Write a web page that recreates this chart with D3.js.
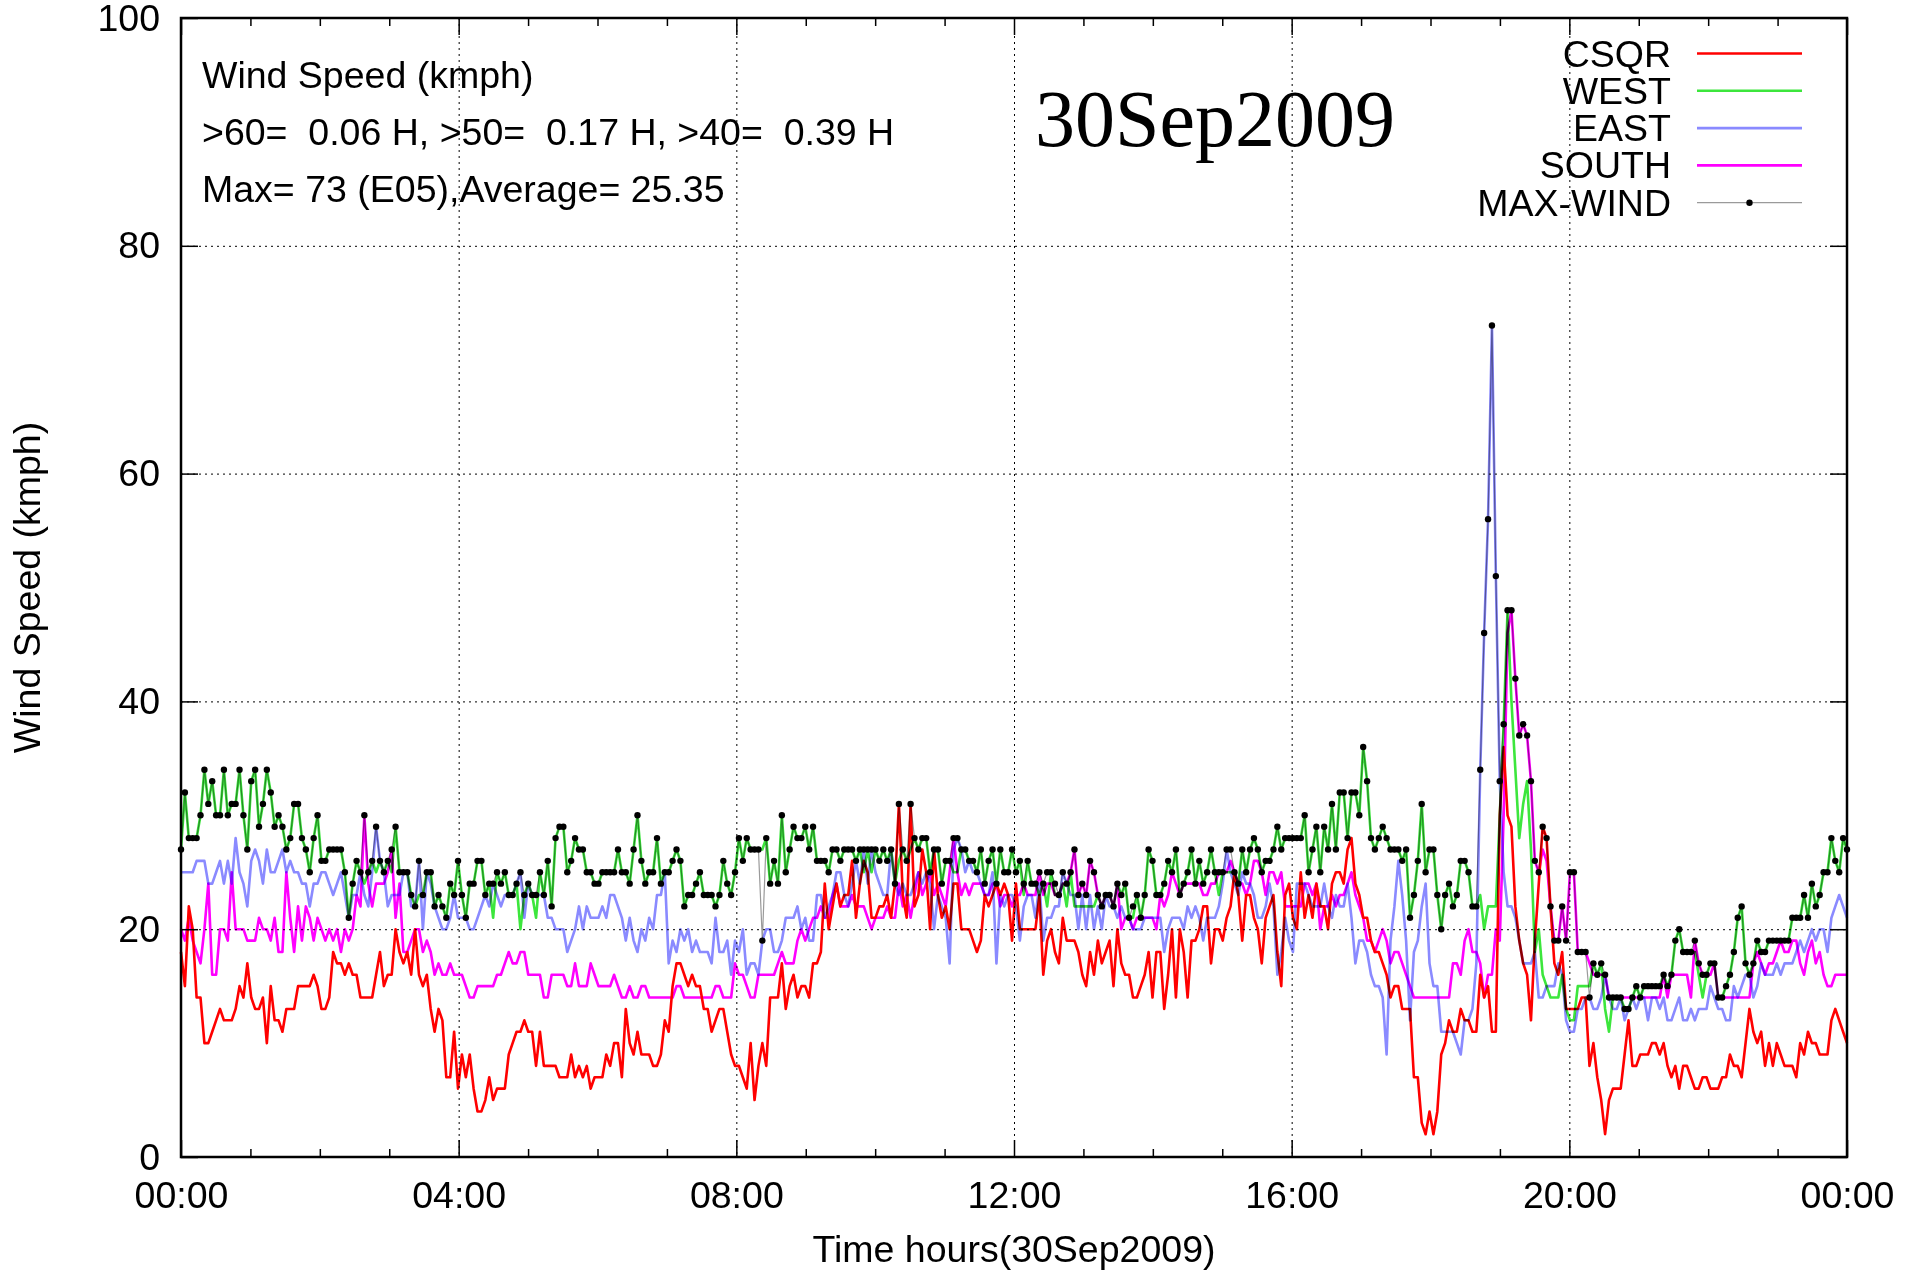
<!DOCTYPE html>
<html><head><meta charset="utf-8">
<script src="https://cdn.jsdelivr.net/npm/d3@7"></script>
<style>
html,body{margin:0;padding:0;background:#fff;}
svg{display:block;}
</style></head><body>
<svg id="chart" width="1917" height="1274"></svg>
<script>
// ---------------- data ----------------
const hourTicks = [0, 4, 8, 12, 16, 20, 24];
const hourLabels = ["00:00", "04:00", "08:00", "12:00", "16:00", "20:00", "00:00"];
const minorHours = [1, 2, 3, 5, 6, 7, 9, 10, 11, 13, 14, 15, 17, 18, 19, 21, 22, 23];
const speedTicks = [0, 20, 40, 60, 80, 100];
const seriesNames = ["CSQR", "WEST", "EAST", "SOUTH", "MAX-WIND"];
const infoLines = ["Wind Speed (kmph)", ">60=  0.06 H, >50=  0.17 H, >40=  0.39 H", "Max= 73 (E05),Average= 25.35"];
const dateLabel = "30Sep2009";
const xTitle = "Time hours(30Sep2009)";
const yTitle = "Wind Speed (kmph)";

// samples spread evenly over 00:00 - 24:00 (kmph)
const maxWind = [
27,32,28,28,28,30,34,31,33,30,30,34,30,31,31,34,30,27,33,34,29,31,34,32,29,30,29,27,28,31,31,28,27,25,28,30,26,26,27,27,27,27,25,21,24,26,25,30,25,26,29,26,25,26,27,29,25,25,25,23,22,26,23,25,25,22,23,22,21,24,
23,26,23,21,24,24,26,26,23,24,24,25,24,25,23,23,24,25,23,24,23,23,25,23,26,22,28,29,29,25,26,28,27,27,25,25,24,24,25,25,25,25,27,25,25,24,27,30,26,24,25,25,28,24,25,25,26,27,26,22,23,23,24,25,23,23,23,22,23,26,24,23,25,28,
26,28,27,27,27,19,28,24,26,24,30,25,27,29,28,28,29,27,29,26,26,26,25,27,27,26,27,27,27,26,27,27,27,27,27,26,27,26,27,24,31,27,26,31,28,27,28,28,25,27,27,24,26,26,28,28,27,27,26,26,25,27,24,26,27,24,27,25,25,27,25,
26,24,26,24,24,25,24,25,25,24,23,25,24,25,27,23,24,23,26,25,23,22,23,23,22,24,23,24,21,22,23,21,23,27,26,23,23,24,26,25,27,23,24,25,27,24,26,24,25,27,25,25,25,27,27,25,24,27,25,27,28,27,25,26,26,27,29,27,28,28,28,
28,28,30,25,27,29,25,29,27,31,27,32,32,28,32,32,30,36,33,28,27,28,29,28,27,27,27,26,27,21,23,26,31,25,27,27,23,20,23,24,22,23,26,26,25,22,22,34,46,56,73,51,33,38,48,48,42,37,38,37,33,26,25,29,28,22,19,19,22,19,25,
25,18,18,18,14,17,16,17,16,14,14,14,14,13,13,14,15,14,15,15,15,15,15,16,15,16,19,20,18,18,18,19,17,16,16,17,17,14,14,15,16,18,21,22,17,16,17,19,18,18,19,19,19,19,19,19,21,21,21,23,21,24,22,23,25,25,28,26,25,28,27
];
const csqr = [
18,15,22,20,14,14,10,10,11,12,13,12,12,12,13,15,14,17,14,13,13,14,10,15,12,12,11,13,13,13,15,15,15,15,16,15,13,13,14,18,17,17,16,17,16,16,14,14,14,14,16,18,15,16,16,20,18,17,18,16,20,16,15,16,13,11,13,12,7,7,
11,6,9,7,9,6,4,4,5,7,5,6,6,6,9,10,11,11,12,11,11,8,11,8,8,8,8,7,7,7,9,7,8,7,8,6,7,7,7,9,8,10,10,7,13,10,9,11,9,9,9,8,8,9,12,11,15,17,17,16,15,16,15,15,13,13,11,12,13,13,11,9,8,8,
7,6,10,5,8,10,8,14,14,14,17,13,15,16,14,15,15,14,17,17,18,24,20,22,24,22,23,23,26,21,24,26,25,21,21,22,22,23,21,24,31,23,21,31,22,23,27,25,20,27,23,21,22,20,24,24,20,20,20,19,18,19,23,22,23,24,23,24,23,19,24,
20,20,20,20,20,23,16,19,20,18,17,21,19,19,19,18,16,15,18,16,19,17,18,19,15,20,17,16,16,14,14,15,16,18,14,18,18,13,16,20,14,20,18,14,19,19,20,22,22,17,20,20,19,21,22,25,23,19,23,23,21,20,17,21,22,23,18,15,23,24,21,
20,25,21,23,21,24,22,22,20,24,25,25,24,27,28,24,23,21,21,19,18,18,17,16,14,15,15,13,13,13,7,7,3,2,4,2,4,9,10,12,11,11,13,12,12,11,11,16,14,15,11,11,30,36,30,29,22,19,17,16,12,19,24,29,28,22,17,16,18,13,13,
13,13,14,14,8,10,7,5,2,5,6,6,6,9,12,8,8,9,9,9,10,10,9,10,8,7,8,6,8,8,7,6,6,7,7,6,6,6,7,7,9,8,8,7,10,13,11,10,11,8,10,8,10,9,8,8,8,7,10,9,11,10,10,9,9,9,12,13,12,11,10
];
const west = [
27,32,28,28,28,30,34,31,33,30,30,34,30,31,31,34,30,27,33,34,29,31,34,32,29,30,29,27,28,31,31,28,27,25,28,30,26,26,27,27,27,27,25,21,24,26,25,24,25,26,25,26,25,26,25,29,25,25,25,23,22,23,23,25,25,22,23,22,21,24,
23,26,23,21,24,24,26,26,23,24,21,25,24,25,23,23,24,20,23,24,23,21,25,23,26,22,28,29,29,25,26,28,27,27,25,25,24,24,25,25,25,25,27,25,25,24,27,30,26,24,25,25,28,24,25,25,26,27,26,22,23,23,24,25,23,23,23,22,23,26,24,23,25,28,
26,28,27,27,27,27,28,24,26,24,30,25,27,29,28,28,29,27,29,26,26,26,25,27,27,26,27,27,27,26,27,25,27,25,27,26,27,26,27,24,26,27,26,27,28,27,28,28,25,27,27,24,26,26,25,25,27,27,26,26,25,27,24,26,27,24,27,25,25,27,25,
26,23,26,24,24,23,24,22,25,23,23,24,22,25,22,22,22,22,22,22,23,22,23,23,22,24,23,24,21,21,23,21,23,27,26,23,23,24,26,25,27,23,24,25,27,24,26,24,25,27,25,23,25,25,25,25,24,27,25,27,28,27,25,26,26,27,29,27,28,28,28,
28,28,30,25,27,29,25,29,27,31,27,32,32,28,32,32,30,36,33,28,27,28,29,28,27,27,27,26,27,21,23,26,31,25,27,27,23,20,23,24,22,23,26,26,25,22,22,23,20,22,22,22,30,38,48,40,34,28,31,33,27,18,20,16,15,14,14,14,16,13,12,
12,15,15,15,15,17,16,17,13,11,14,14,14,13,13,14,15,14,15,15,15,15,15,16,15,16,19,20,18,18,18,18,16,14,16,17,17,14,14,15,16,18,21,22,17,16,17,19,18,18,19,19,19,19,19,19,21,21,21,23,21,24,22,23,25,25,28,26,25,28,27
];
const east = [
25,25,25,25,26,26,26,24,24,25,26,24,26,24,28,25,24,22,26,27,26,24,27,25,25,26,27,25,26,25,25,24,24,22,24,24,25,25,24,23,24,25,23,21,23,23,25,23,22,25,29,26,25,22,23,23,23,25,25,22,22,26,20,25,24,22,21,20,20,21,
23,21,21,21,20,20,21,22,23,22,24,23,22,23,23,23,24,25,21,24,23,23,23,23,21,21,20,20,20,18,19,20,22,20,22,21,21,21,22,21,23,23,22,21,19,21,19,18,20,19,21,20,23,23,25,17,19,18,20,19,20,18,19,18,18,18,17,21,18,18,19,16,19,18,
20,16,17,17,16,19,20,20,18,18,19,21,21,21,22,20,21,19,19,23,23,21,22,23,25,25,23,22,24,26,24,27,24,27,25,24,23,23,27,24,23,24,23,23,24,25,24,25,24,20,23,22,21,17,27,28,27,25,26,25,25,24,23,23,25,17,23,22,23,23,22,
19,22,23,23,21,24,19,21,21,22,22,25,24,23,23,20,23,20,23,20,22,20,23,22,22,21,22,21,21,20,20,20,21,21,21,21,21,18,20,21,21,21,20,22,21,22,21,19,21,21,21,22,24,27,25,24,23,25,24,24,23,21,21,22,24,22,16,18,21,19,18,
24,24,24,23,22,22,22,24,22,21,23,22,22,24,21,17,19,19,18,16,15,15,14,9,19,22,26,23,19,12,18,19,22,24,17,15,15,11,11,11,11,10,9,12,12,13,17,34,46,56,73,51,33,25,22,22,21,19,17,17,17,18,14,14,15,15,15,17,16,12,11,
11,13,13,14,14,13,13,14,16,14,13,13,14,12,13,14,13,14,14,12,14,14,13,14,12,12,13,14,12,12,13,12,13,13,13,15,14,13,13,12,12,15,14,15,16,16,14,15,17,16,16,16,17,16,17,17,17,18,19,18,19,20,19,20,20,18,21,22,23,22,21
];
const south = [
20,19,21,19,18,17,20,24,16,16,20,20,19,25,20,20,20,19,19,19,21,20,20,19,21,18,18,25,21,18,22,19,22,21,19,21,20,19,20,19,20,18,20,19,20,23,22,30,24,22,24,24,24,25,27,21,24,18,18,19,20,20,18,19,18,16,17,16,16,17,
16,16,16,15,14,14,15,15,15,15,15,16,16,17,18,17,17,18,18,16,16,16,16,14,14,16,16,16,16,15,15,17,15,15,15,17,16,15,15,15,15,16,15,14,14,15,14,14,15,15,14,14,14,14,14,14,14,15,15,14,14,14,14,14,14,14,14,15,15,14,14,14,17,16,
16,15,14,14,16,16,16,16,16,17,18,17,17,17,19,20,19,20,21,21,22,21,21,23,24,22,22,22,23,22,22,22,21,20,21,21,21,22,21,21,24,22,23,21,23,25,23,24,25,23,24,23,22,25,28,25,23,24,23,24,24,24,23,23,24,24,22,23,23,22,23,
23,24,23,23,23,25,23,24,24,23,23,24,24,25,27,23,24,23,26,25,23,22,23,23,22,24,20,21,21,20,21,21,21,21,21,20,23,22,23,25,24,23,24,24,24,24,24,23,23,24,24,25,25,25,26,25,24,24,23,24,26,26,25,23,25,25,24,25,22,22,22,
22,22,24,24,23,24,20,22,22,23,22,23,23,24,25,23,22,21,19,19,18,19,20,19,17,18,18,17,16,15,14,14,14,14,14,14,14,14,14,14,17,17,16,19,20,18,18,17,14,16,16,20,19,30,46,48,42,37,38,37,33,26,25,27,26,22,19,19,22,19,25,
25,18,18,18,17,16,16,16,16,14,14,14,14,14,14,14,14,14,14,14,14,14,14,16,14,16,16,16,16,16,14,19,17,16,16,16,17,14,14,14,14,14,14,14,14,14,17,18,17,16,17,17,18,19,18,18,19,19,17,16,18,19,17,18,16,15,15,16,16,16,16
];

// ---------------- drawing ----------------
const W = 1917, H = 1274;
const M = { l: 181, r: 1847, t: 18, b: 1157 };
const SANS = '"Liberation Sans", Arial, Helvetica, sans-serif';
const SERIF = '"Liberation Serif", "Times New Roman", Times, serif';
const FS = 37.5;

const svg = d3.select("#chart");
svg.append("rect").attr("width", W).attr("height", H).attr("fill", "#fff");

const x = d3.scaleLinear().domain([0, 24]).range([M.l, M.r]);
const y = d3.scaleLinear().domain([0, 100]).range([M.b, M.t]);

// grid
const grid = svg.append("g").attr("stroke", "#000").attr("stroke-width", 1).attr("stroke-dasharray", "2,4");
grid.selectAll("line.gx").data(hourTicks.filter(h => h > 0 && h < 24)).join("line").attr("class", "gx")
  .attr("x1", d => x(d) + 0.5).attr("x2", d => x(d) + 0.5).attr("y1", M.t).attr("y2", M.b);
grid.selectAll("line.gy").data(speedTicks.filter(v => v > 0 && v < 100)).join("line").attr("class", "gy")
  .attr("y1", d => y(d) + 0.5).attr("y2", d => y(d) + 0.5).attr("x1", M.l).attr("x2", M.r);

function styleAxis(g) {
  g.attr("font-size", FS).attr("font-family", SANS);
  g.select(".domain").remove();
  g.selectAll(".tick line").attr("stroke", "#000").attr("stroke-width", 1.5);
  g.selectAll(".tick text").attr("fill", "#000");
}
// bottom major + labels
svg.append("g").attr("transform", `translate(0,${M.b})`)
  .call(d3.axisBottom(x).tickValues(hourTicks).tickFormat((d, i) => hourLabels[i])
    .tickSizeInner(-17).tickSizeOuter(0).tickPadding(24)).call(styleAxis);
svg.append("g").attr("transform", `translate(0,${M.b})`)
  .call(d3.axisBottom(x).tickValues(minorHours).tickFormat("").tickSizeInner(-8).tickSizeOuter(0)).call(styleAxis);
// top mirror
svg.append("g").attr("transform", `translate(0,${M.t})`)
  .call(d3.axisTop(x).tickValues(hourTicks).tickFormat("").tickSizeInner(-17).tickSizeOuter(0)).call(styleAxis);
svg.append("g").attr("transform", `translate(0,${M.t})`)
  .call(d3.axisTop(x).tickValues(minorHours).tickFormat("").tickSizeInner(-8).tickSizeOuter(0)).call(styleAxis);
// left + right
svg.append("g").attr("transform", `translate(${M.l},0)`)
  .call(d3.axisLeft(y).tickValues(speedTicks).tickFormat(d3.format("d"))
    .tickSizeInner(-17).tickSizeOuter(0).tickPadding(21)).call(styleAxis);
svg.append("g").attr("transform", `translate(${M.r},0)`)
  .call(d3.axisRight(y).tickValues(speedTicks).tickFormat("").tickSizeInner(-17).tickSizeOuter(0)).call(styleAxis);

// series
const seriesData = [csqr, west, east, south];
const seriesColors = ["#ff0000", "#3ce63c", "#8a8aff", "#ff00ff"];
const tOf = (i, arr) => i * 24 / (arr.length - 1);
const lineGen = d3.line().x((d, i, arr) => x(tOf(i, arr))).y(d => y(d));

const plot = svg.append("g");
seriesData.forEach((arr, k) => {
  plot.append("path").datum(arr).attr("d", lineGen)
    .attr("fill", "none").attr("stroke", seriesColors[k]).attr("stroke-width", 2.6)
    .attr("stroke-linejoin", "round").style("mix-blend-mode", "multiply");
});
plot.append("path").datum(maxWind).attr("d", lineGen)
  .attr("fill", "none").attr("stroke", "#9a9a9a").attr("stroke-width", 1.2)
  .attr("stroke-linejoin", "round").style("mix-blend-mode", "multiply");
plot.selectAll("circle.mw").data(maxWind).join("circle").attr("class", "mw")
  .attr("cx", (d, i) => x(tOf(i, maxWind))).attr("cy", d => y(d)).attr("r", 3.2).attr("fill", "#000");

// frame
svg.append("rect").attr("x", M.l).attr("y", M.t).attr("width", M.r - M.l).attr("height", M.b - M.t)
  .attr("fill", "none").attr("stroke", "#000").attr("stroke-width", 2.5);

// info text
const info = svg.append("g").attr("font-family", SANS).attr("font-size", FS).attr("fill", "#000");
infoLines.forEach((s, i) => {
  info.append("text").attr("x", 202).attr("y", 88 + 57 * i).attr("xml:space", "preserve")
    .style("white-space", "pre").text(s);
});
svg.append("text").attr("x", 1035).attr("y", 146).attr("font-family", SERIF).attr("font-size", 80)
  .attr("fill", "#000").text(dateLabel);

// legend
const legColors = seriesColors.concat(["#9a9a9a"]);
const leg = svg.append("g").attr("font-family", SANS).attr("font-size", FS);
seriesNames.forEach((name, i) => {
  const cy = 53.5 + 37.3 * i;
  leg.append("text").attr("x", 1671).attr("y", cy + 13).attr("text-anchor", "end").attr("fill", "#000").text(name);
  leg.append("line").attr("x1", 1697).attr("x2", 1802).attr("y1", cy).attr("y2", cy)
    .attr("stroke", legColors[i]).attr("stroke-width", i === 4 ? 1.2 : 2.6);
  if (i === 4) leg.append("circle").attr("cx", 1749.5).attr("cy", cy).attr("r", 3.2).attr("fill", "#000");
});

// axis titles
svg.append("text").attr("x", (M.l + M.r) / 2).attr("y", 1262).attr("text-anchor", "middle")
  .attr("font-family", SANS).attr("font-size", FS).attr("fill", "#000").text(xTitle);
svg.append("text").attr("transform", `translate(40,${(M.t + M.b) / 2}) rotate(-90)`).attr("text-anchor", "middle")
  .attr("font-family", SANS).attr("font-size", FS).attr("fill", "#000").text(yTitle);
</script>
</body></html>
